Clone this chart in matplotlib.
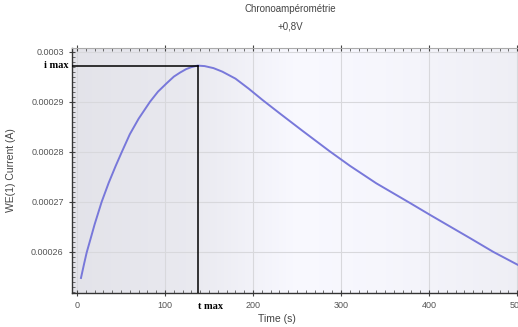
import matplotlib
matplotlib.use("Agg")
import matplotlib.pyplot as plt
import numpy as np
from matplotlib.ticker import MultipleLocator, FixedLocator

# chronoamperometry trace at +0.8 V
time_s = [4.5, 8, 11, 16, 20, 28, 36, 44, 51, 60, 70, 83, 92, 102, 110,
          117, 124, 130, 137, 145, 155, 165, 180, 195, 211, 230, 256, 287,
          310, 340, 378, 401, 447, 473, 501]
current_a = [0.0002548, 0.0002576, 0.0002599, 0.000263, 0.0002655,
             0.00027, 0.0002738, 0.0002772, 0.00028, 0.0002835, 0.0002866,
             0.00029, 0.000292, 0.0002937, 0.000295, 0.0002958, 0.0002965,
             0.0002969, 0.0002972, 0.0002971, 0.0002967, 0.000296,
             0.0002946, 0.0002926, 0.0002903, 0.0002877, 0.0002842,
             0.0002801, 0.0002772, 0.0002737, 0.0002698, 0.0002674,
             0.0002627, 0.00026, 0.0002574]

t_max = 137
i_max = 0.0002972

x_ticks = [0, 100, 200, 300, 400, 500]
y_ticks = [0.00026, 0.00027, 0.00028, 0.00029, 0.0003]
y_labels = ["0.00026", "0.00027", "0.00028", "0.00029", "0.0003"]

plt.rcParams["font.family"] = ["Liberation Sans", "DejaVu Sans"]

fig = plt.figure(figsize=(5.18, 3.27), dpi=100)
ax = fig.add_axes([0.139, 0.104, 0.861, 0.749])

xmin, xmax = -5.7, 501
ymin, ymax = 0.0002518, 0.0003007
ax.set_xlim(xmin, xmax)
ax.set_ylim(ymin, ymax)

# soft grey-to-white shading behind the plot
grad_x = [xmin, 130, 250, 350, xmax]
grad_v = [0.89, 0.915, 0.975, 0.965, 0.935]
xs = np.linspace(xmin, xmax, 400)
shade = np.interp(xs, grad_x, grad_v)
img = np.zeros((2, len(xs), 3))
img[..., 0] = shade
img[..., 1] = shade
img[..., 2] = np.minimum(shade + 0.025, 1.0)
ax.imshow(img, extent=[xmin, xmax, ymin, ymax], aspect="auto", zorder=0)

ax.grid(True, color="#d8d8dc", lw=0.8, zorder=1)
ax.set_axisbelow(True)

ax.plot(time_s, current_a, color="#7878da", lw=1.4, zorder=3,
        solid_joinstyle="round")

# i max / t max markers
ax.plot([xmin, t_max], [i_max, i_max], color="black", lw=1.1, zorder=4)
ax.plot([t_max, t_max], [ymin, i_max], color="black", lw=1.1, zorder=4)
ax.text(-0.008, i_max, "i max", transform=ax.get_yaxis_transform(),
        ha="right", va="center", fontsize=7.5, fontweight="bold",
        family="Liberation Serif", color="black")
ax.text(t_max, -0.035, "t max", transform=ax.get_xaxis_transform(),
        ha="left", va="top", fontsize=7.5, fontweight="bold",
        family="Liberation Serif", color="black")

ax.xaxis.set_major_locator(FixedLocator(x_ticks))
ax.xaxis.set_minor_locator(MultipleLocator(10))
ax.yaxis.set_major_locator(FixedLocator(y_ticks))
ax.set_yticklabels(y_labels)
ax.yaxis.set_minor_locator(MultipleLocator(0.000001))

ax.tick_params(which="major", direction="inout", length=5, width=0.8,
               labelsize=6.5, labelcolor="#555555", color="#444444",
               top=True, right=False)
ax.tick_params(which="minor", direction="in", length=2, width=0.6,
               color="#555555", top=True, right=False)

for side in ["left", "bottom"]:
    ax.spines[side].set_color("#333333")
    ax.spines[side].set_linewidth(1.0)
ax.spines["top"].set_color("#aaaaaa")
ax.spines["right"].set_visible(False)

ax.set_xlabel("Time (s)", fontsize=7.5, color="#444444")
ax.xaxis.set_label_coords(0.46, -0.085)
ax.set_ylabel("WE(1) Current (A)", fontsize=7.5, color="#444444")
ax.yaxis.set_label_coords(-0.125, 0.5)

fig.text(0.56, 0.972, "Chronoampérométrie", ha="center", va="center",
         fontsize=7, color="#444444")
fig.text(0.56, 0.92, "+0,8V", ha="center", va="center",
         fontsize=7, color="#444444")

fig.savefig("out.png", dpi=100)
